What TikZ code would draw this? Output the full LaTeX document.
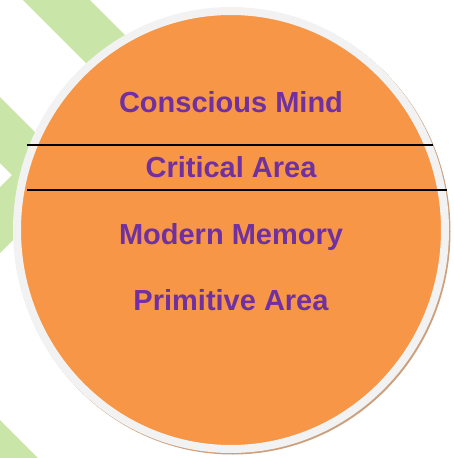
\documentclass[tikz,border=0pt]{standalone}
\usepackage{fontspec}
\setmainfont{Liberation Sans}
\usetikzlibrary{positioning}

\definecolor{mindorange}{RGB}{247,150,70}
\definecolor{mindpurple}{RGB}{112,48,160}
\definecolor{leafgreen}{RGB}{201,230,168}
\definecolor{rimgray}{RGB}{242,242,242}
\definecolor{rimshadow}{RGB}{205,160,125}

\begin{document}
\begin{tikzpicture}[
    x=1pt, y=-1pt,
    band/.style={fill=leafgreen, draw=none},
    layer/.style={font=\fontsize{29}{34}\selectfont\bfseries, text=mindpurple, inner sep=0pt},
    divider/.style={draw=black, line width=1.5pt}
]
  \useasboundingbox (0,0) rectangle (453,458);

  % green chevrons behind the circle
  \fill[band] (23,0) -- (90,0) -- (240,150) -- (173,150) -- cycle;
  \fill[band] (0,97) -- (78,175) -- (0,253) -- (0,187) -- (12,175) -- (0,163) -- cycle;
  \fill[band] (0,420) -- (38,458) -- (0,458) -- cycle;

  % the mind: shadow, rim and body
  \fill[rimshadow] (232.5,231.5) ellipse [x radius=218, y radius=223];
  \draw[rimgray, line width=8pt, fill=mindorange] (231,230) ellipse [x radius=214, y radius=219];

  % layer dividers
  \coordinate (d1l) at (27,145);
  \coordinate (d1r) at (433,145);
  \coordinate (d2l) at (27,190);
  \coordinate (d2r) at (447,190);
  \draw[divider] (d1l) -- (d1r);
  \draw[divider] (d2l) -- (d2r);

  % layer names
  \node[layer, anchor=base] (conscious) at (231,112) {Conscious Mind};
  \node[layer, below=65pt of conscious.base, anchor=base] (critical) {Critical Area};
  \node[layer, below=67pt of critical.base, anchor=base] (memory) {Modern Memory};
  \node[layer, below=66pt of memory.base, anchor=base] (primitive) {Primitive Area};
\end{tikzpicture}
\end{document}
